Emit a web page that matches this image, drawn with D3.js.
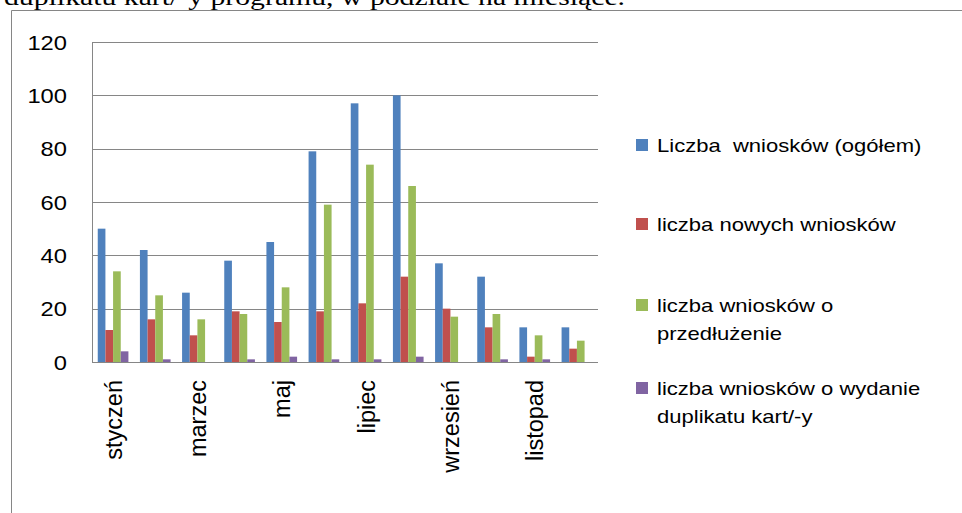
<!DOCTYPE html>
<html lang="pl">
<head>
<meta charset="UTF-8">
<title>Wnioski w podziale na miesiące</title>
<script src="https://cdn.jsdelivr.net/npm/d3@7"></script>
<style>
    body { margin: 0; background: #fff; }
    svg { display: block; }
    text { white-space: pre; }
</style>
</head>
<body>
<svg width="962" height="513"></svg>
<script>
    // months (only every other one gets a label, like in the original)
    const months = ["styczeń", "luty", "marzec", "kwiecień", "maj", "czerwiec",
        "lipiec", "sierpień", "wrzesień", "październik", "listopad", "grudzień"];
    const seriesNames = [
        "Liczba  wniosków (ogółem)",
        "liczba nowych wniosków",
        "liczba wniosków o przedłużenie",
        "liczba wniosków o wydanie duplikatu kart/-y"
    ];
    const totalVals     = [50, 42, 26, 38, 45, 79, 97, 100, 37, 32, 13, 13];
    const newVals       = [12, 16, 10, 19, 15, 19, 22, 32, 20, 13, 2, 5];
    const extendVals    = [34, 25, 16, 18, 28, 59, 74, 66, 17, 18, 10, 8];
    const duplicateVals = [4, 1, 0, 1, 2, 1, 1, 2, 0, 1, 1, 0];
    const yTicks = [0, 20, 40, 60, 80, 100, 120];

    const seriesVals = [totalVals, newVals, extendVals, duplicateVals];
    const colors = ["#4F81BD", "#C0504D", "#9BBB59", "#8064A2"];
    // legend lines, wrapped like the excel legend
    const legendLines = [
        ["Liczba  wniosków (ogółem)"],
        ["liczba nowych wniosków"],
        ["liczba wniosków o", "przedłużenie"],
        ["liczba wniosków o wydanie", "duplikatu kart/-y"]
    ];

    const svg = d3.select("svg");
    const font = "'Liberation Sans', Arial, sans-serif";
    // the original picture is a bit stretched sideways
    const stretch = 1.13;

    // cut off line of the document text above the chart
    svg.append("text")
        .attr("transform", `translate(4,5) scale(1.24,1)`)
        .style("font", "24px 'Liberation Serif', 'Times New Roman', serif")
        .attr("fill", "#000")
        .text("duplikatu kart/-y programu, w podziale na miesiące.");

    // chart frame (runs off the page on the right and bottom)
    svg.append("path")
        .attr("d", "M11.5,520V10.5H970")
        .attr("fill", "none")
        .attr("stroke", "#868686")
        .attr("stroke-width", 1);

    const plot = {left: 92, right: 598, top: 42, bottom: 362};

    const x = d3.scaleBand().domain(months).range([plot.left, plot.right]);
    const xi = d3.scaleBand().domain(d3.range(seriesNames.length))
        .range([0, x.bandwidth()]).paddingOuter(0.75);
    const y = d3.scaleLinear().domain([0, 120]).range([plot.bottom, plot.top]);

    // gridlines
    svg.append("g")
        .selectAll("line")
        .data(yTicks)
        .join("line")
        .attr("x1", plot.left).attr("x2", plot.right)
        .attr("y1", d => Math.round(y(d)) + 0.5)
        .attr("y2", d => Math.round(y(d)) + 0.5)
        .attr("stroke", "#868686")
        .attr("stroke-width", 1.2);

    svg.append("line")
        .attr("x1", plot.left + 0.5).attr("x2", plot.left + 0.5)
        .attr("y1", plot.top).attr("y2", plot.bottom)
        .attr("stroke", "#868686");

    // y labels
    svg.append("g")
        .selectAll("text")
        .data(yTicks)
        .join("text")
        .attr("transform", d => `translate(67,${y(d)}) scale(${stretch},1)`)
        .attr("dy", "0.36em")
        .attr("text-anchor", "end")
        .style("font", "21px " + font)
        .attr("fill", "#000")
        .text(d => d);

    // bars
    const rows = months.map((m, i) => ({month: m, vals: seriesVals.map(s => s[i])}));
    svg.append("g")
        .selectAll("g")
        .data(rows)
        .join("g")
        .attr("transform", d => `translate(${x(d.month)},0)`)
        .selectAll("rect")
        .data(d => d.vals.map((v, k) => ({v, k})))
        .join("rect")
        .attr("x", d => xi(d.k))
        .attr("width", xi.bandwidth())
        .attr("y", d => y(d.v))
        .attr("height", d => y(0) - y(d.v))
        .attr("fill", d => colors[d.k]);

    // x labels, every second month
    svg.append("g")
        .selectAll("text")
        .data(months.filter((m, i) => i % 2 === 0))
        .join("text")
        .attr("transform", d => `translate(${x(d) + x.bandwidth() / 2},380) rotate(-90)`)
        .attr("dy", "0.36em")
        .attr("text-anchor", "end")
        .style("font", "23.5px " + font)
        .attr("fill", "#000")
        .text(d => d);

    // legend
    const legendTop = [145, 224, 305, 388];
    const lg = svg.append("g")
        .selectAll("g")
        .data(legendLines)
        .join("g")
        .attr("transform", (d, i) => `translate(636,${legendTop[i]})`);
    lg.append("rect")
        .attr("x", 0).attr("y", -6)
        .attr("width", 12).attr("height", 12)
        .attr("fill", (d, i) => colors[i]);
    lg.selectAll("text")
        .data(d => d)
        .join("text")
        .attr("transform", (d, j) => `translate(21,${j * 28}) scale(1.16,1)`)
        .attr("dy", "0.36em")
        .style("font", "19px " + font)
        .attr("fill", "#000")
        .text(d => d);
</script>
</body>
</html>
